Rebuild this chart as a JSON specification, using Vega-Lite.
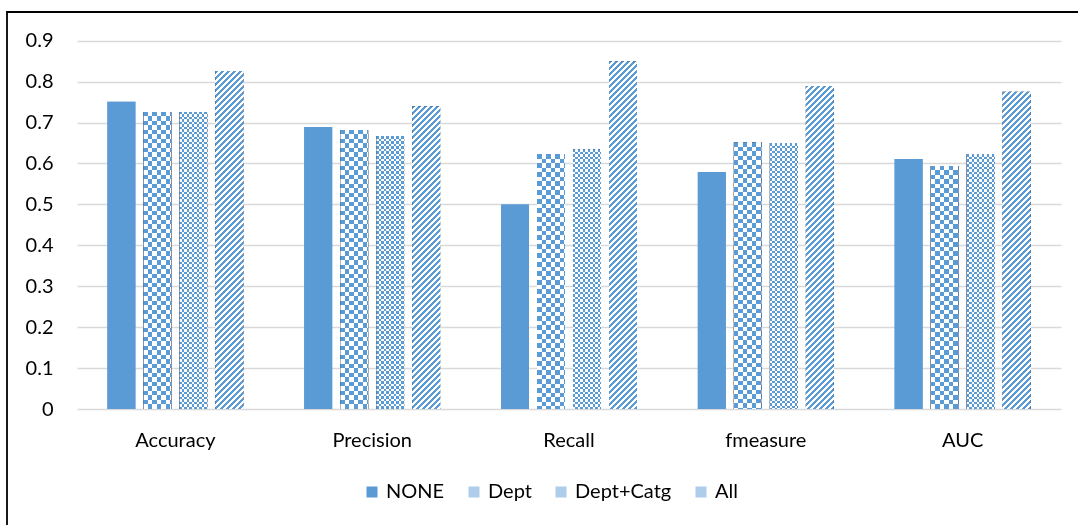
{
"$schema":"https://vega.github.io/schema/vega-lite/v6.json",
"width":1074,"height":516,
"autosize":{"type":"none"},
"padding":{"left":7,"top":12,"right":-3,"bottom":-3},
"background":"white",
"config":{"view":{"stroke":"#000","strokeWidth":1.8},"font":"Lato"},
"params":[{"name":"pat","value":[
{"offset":0,"color":"#000"},{"offset":0.005,"color":"#000"},{"offset":0.005,"color":"#fff"},{"offset":0.01,"color":"#fff"},
{"offset":0.01,"color":"#000"},{"offset":0.015,"color":"#000"},{"offset":0.015,"color":"#fff"},{"offset":0.02,"color":"#fff"},
{"offset":0.02,"color":"#000"},{"offset":0.025,"color":"#000"},{"offset":0.025,"color":"#fff"},{"offset":0.03,"color":"#fff"},
{"offset":0.03,"color":"#000"},{"offset":0.035,"color":"#000"},{"offset":0.035,"color":"#fff"},{"offset":0.04,"color":"#fff"},
{"offset":0.04,"color":"#000"},{"offset":0.045,"color":"#000"},{"offset":0.045,"color":"#fff"},{"offset":0.05,"color":"#fff"},
{"offset":0.05,"color":"#000"},{"offset":0.055,"color":"#000"},{"offset":0.055,"color":"#fff"},{"offset":0.06,"color":"#fff"},
{"offset":0.06,"color":"#000"},{"offset":0.065,"color":"#000"},{"offset":0.065,"color":"#fff"},{"offset":0.07,"color":"#fff"},
{"offset":0.07,"color":"#000"},{"offset":0.075,"color":"#000"},{"offset":0.075,"color":"#fff"},{"offset":0.08,"color":"#fff"},
{"offset":0.08,"color":"#000"},{"offset":0.085,"color":"#000"},{"offset":0.085,"color":"#fff"},{"offset":0.09,"color":"#fff"},
{"offset":0.09,"color":"#000"},{"offset":0.095,"color":"#000"},{"offset":0.095,"color":"#fff"},{"offset":0.1,"color":"#fff"},
{"offset":0.1,"color":"#000"},{"offset":0.105,"color":"#000"},{"offset":0.105,"color":"#fff"},{"offset":0.11,"color":"#fff"},
{"offset":0.11,"color":"#000"},{"offset":0.115,"color":"#000"},{"offset":0.115,"color":"#fff"},{"offset":0.12,"color":"#fff"},
{"offset":0.12,"color":"#000"},{"offset":0.125,"color":"#000"},{"offset":0.125,"color":"#fff"},{"offset":0.13,"color":"#fff"},
{"offset":0.13,"color":"#000"},{"offset":0.135,"color":"#000"},{"offset":0.135,"color":"#fff"},{"offset":0.14,"color":"#fff"},
{"offset":0.14,"color":"#000"},{"offset":0.145,"color":"#000"},{"offset":0.145,"color":"#fff"},{"offset":0.15,"color":"#fff"},
{"offset":0.15,"color":"#000"},{"offset":0.155,"color":"#000"},{"offset":0.155,"color":"#fff"},{"offset":0.16,"color":"#fff"},
{"offset":0.16,"color":"#000"},{"offset":0.165,"color":"#000"},{"offset":0.165,"color":"#fff"},{"offset":0.17,"color":"#fff"},
{"offset":0.17,"color":"#000"},{"offset":0.175,"color":"#000"},{"offset":0.175,"color":"#fff"},{"offset":0.18,"color":"#fff"},
{"offset":0.18,"color":"#000"},{"offset":0.185,"color":"#000"},{"offset":0.185,"color":"#fff"},{"offset":0.19,"color":"#fff"},
{"offset":0.19,"color":"#000"},{"offset":0.195,"color":"#000"},{"offset":0.195,"color":"#fff"},{"offset":0.2,"color":"#fff"},
{"offset":0.2,"color":"#000"},{"offset":0.205,"color":"#000"},{"offset":0.205,"color":"#fff"},{"offset":0.21,"color":"#fff"},
{"offset":0.21,"color":"#000"},{"offset":0.215,"color":"#000"},{"offset":0.215,"color":"#fff"},{"offset":0.22,"color":"#fff"},
{"offset":0.22,"color":"#000"},{"offset":0.225,"color":"#000"},{"offset":0.225,"color":"#fff"},{"offset":0.23,"color":"#fff"},
{"offset":0.23,"color":"#000"},{"offset":0.235,"color":"#000"},{"offset":0.235,"color":"#fff"},{"offset":0.24,"color":"#fff"},
{"offset":0.24,"color":"#000"},{"offset":0.245,"color":"#000"},{"offset":0.245,"color":"#fff"},{"offset":0.25,"color":"#fff"},
{"offset":0.25,"color":"#000"},{"offset":0.255,"color":"#000"},{"offset":0.255,"color":"#fff"},{"offset":0.26,"color":"#fff"},
{"offset":0.26,"color":"#000"},{"offset":0.265,"color":"#000"},{"offset":0.265,"color":"#fff"},{"offset":0.27,"color":"#fff"},
{"offset":0.27,"color":"#000"},{"offset":0.275,"color":"#000"},{"offset":0.275,"color":"#fff"},{"offset":0.28,"color":"#fff"},
{"offset":0.28,"color":"#000"},{"offset":0.285,"color":"#000"},{"offset":0.285,"color":"#fff"},{"offset":0.29,"color":"#fff"},
{"offset":0.29,"color":"#000"},{"offset":0.295,"color":"#000"},{"offset":0.295,"color":"#fff"},{"offset":0.3,"color":"#fff"},
{"offset":0.3,"color":"#000"},{"offset":0.305,"color":"#000"},{"offset":0.305,"color":"#fff"},{"offset":0.31,"color":"#fff"},
{"offset":0.31,"color":"#000"},{"offset":0.315,"color":"#000"},{"offset":0.315,"color":"#fff"},{"offset":0.32,"color":"#fff"},
{"offset":0.32,"color":"#000"},{"offset":0.325,"color":"#000"},{"offset":0.325,"color":"#fff"},{"offset":0.33,"color":"#fff"},
{"offset":0.33,"color":"#000"},{"offset":0.335,"color":"#000"},{"offset":0.335,"color":"#fff"},{"offset":0.34,"color":"#fff"},
{"offset":0.34,"color":"#000"},{"offset":0.345,"color":"#000"},{"offset":0.345,"color":"#fff"},{"offset":0.35,"color":"#fff"},
{"offset":0.35,"color":"#000"},{"offset":0.355,"color":"#000"},{"offset":0.355,"color":"#fff"},{"offset":0.36,"color":"#fff"},
{"offset":0.36,"color":"#000"},{"offset":0.365,"color":"#000"},{"offset":0.365,"color":"#fff"},{"offset":0.37,"color":"#fff"},
{"offset":0.37,"color":"#000"},{"offset":0.375,"color":"#000"},{"offset":0.375,"color":"#fff"},{"offset":0.38,"color":"#fff"},
{"offset":0.38,"color":"#000"},{"offset":0.385,"color":"#000"},{"offset":0.385,"color":"#fff"},{"offset":0.39,"color":"#fff"},
{"offset":0.39,"color":"#000"},{"offset":0.395,"color":"#000"},{"offset":0.395,"color":"#fff"},{"offset":0.4,"color":"#fff"},
{"offset":0.4,"color":"#000"},{"offset":0.405,"color":"#000"},{"offset":0.405,"color":"#fff"},{"offset":0.41,"color":"#fff"},
{"offset":0.41,"color":"#000"},{"offset":0.415,"color":"#000"},{"offset":0.415,"color":"#fff"},{"offset":0.42,"color":"#fff"},
{"offset":0.42,"color":"#000"},{"offset":0.425,"color":"#000"},{"offset":0.425,"color":"#fff"},{"offset":0.43,"color":"#fff"},
{"offset":0.43,"color":"#000"},{"offset":0.435,"color":"#000"},{"offset":0.435,"color":"#fff"},{"offset":0.44,"color":"#fff"},
{"offset":0.44,"color":"#000"},{"offset":0.445,"color":"#000"},{"offset":0.445,"color":"#fff"},{"offset":0.45,"color":"#fff"},
{"offset":0.45,"color":"#000"},{"offset":0.455,"color":"#000"},{"offset":0.455,"color":"#fff"},{"offset":0.46,"color":"#fff"},
{"offset":0.46,"color":"#000"},{"offset":0.465,"color":"#000"},{"offset":0.465,"color":"#fff"},{"offset":0.47,"color":"#fff"},
{"offset":0.47,"color":"#000"},{"offset":0.475,"color":"#000"},{"offset":0.475,"color":"#fff"},{"offset":0.48,"color":"#fff"},
{"offset":0.48,"color":"#000"},{"offset":0.485,"color":"#000"},{"offset":0.485,"color":"#fff"},{"offset":0.49,"color":"#fff"},
{"offset":0.49,"color":"#000"},{"offset":0.495,"color":"#000"},{"offset":0.495,"color":"#fff"},{"offset":0.5,"color":"#fff"},
{"offset":0.5,"color":"#000"},{"offset":0.505,"color":"#000"},{"offset":0.505,"color":"#fff"},{"offset":0.51,"color":"#fff"},
{"offset":0.51,"color":"#000"},{"offset":0.515,"color":"#000"},{"offset":0.515,"color":"#fff"},{"offset":0.52,"color":"#fff"},
{"offset":0.52,"color":"#000"},{"offset":0.525,"color":"#000"},{"offset":0.525,"color":"#fff"},{"offset":0.53,"color":"#fff"},
{"offset":0.53,"color":"#000"},{"offset":0.535,"color":"#000"},{"offset":0.535,"color":"#fff"},{"offset":0.54,"color":"#fff"},
{"offset":0.54,"color":"#000"},{"offset":0.545,"color":"#000"},{"offset":0.545,"color":"#fff"},{"offset":0.55,"color":"#fff"},
{"offset":0.55,"color":"#000"},{"offset":0.555,"color":"#000"},{"offset":0.555,"color":"#fff"},{"offset":0.56,"color":"#fff"},
{"offset":0.56,"color":"#000"},{"offset":0.565,"color":"#000"},{"offset":0.565,"color":"#fff"},{"offset":0.57,"color":"#fff"},
{"offset":0.57,"color":"#000"},{"offset":0.575,"color":"#000"},{"offset":0.575,"color":"#fff"},{"offset":0.58,"color":"#fff"},
{"offset":0.58,"color":"#000"},{"offset":0.585,"color":"#000"},{"offset":0.585,"color":"#fff"},{"offset":0.59,"color":"#fff"},
{"offset":0.59,"color":"#000"},{"offset":0.595,"color":"#000"},{"offset":0.595,"color":"#fff"},{"offset":0.6,"color":"#fff"},
{"offset":0.6,"color":"#000"},{"offset":0.605,"color":"#000"},{"offset":0.605,"color":"#fff"},{"offset":0.61,"color":"#fff"},
{"offset":0.61,"color":"#000"},{"offset":0.615,"color":"#000"},{"offset":0.615,"color":"#fff"},{"offset":0.62,"color":"#fff"},
{"offset":0.62,"color":"#000"},{"offset":0.625,"color":"#000"},{"offset":0.625,"color":"#fff"},{"offset":0.63,"color":"#fff"},
{"offset":0.63,"color":"#000"},{"offset":0.635,"color":"#000"},{"offset":0.635,"color":"#fff"},{"offset":0.64,"color":"#fff"},
{"offset":0.64,"color":"#000"},{"offset":0.645,"color":"#000"},{"offset":0.645,"color":"#fff"},{"offset":0.65,"color":"#fff"},
{"offset":0.65,"color":"#000"},{"offset":0.655,"color":"#000"},{"offset":0.655,"color":"#fff"},{"offset":0.66,"color":"#fff"},
{"offset":0.66,"color":"#000"},{"offset":0.665,"color":"#000"},{"offset":0.665,"color":"#fff"},{"offset":0.67,"color":"#fff"},
{"offset":0.67,"color":"#000"},{"offset":0.675,"color":"#000"},{"offset":0.675,"color":"#fff"},{"offset":0.68,"color":"#fff"},
{"offset":0.68,"color":"#000"},{"offset":0.685,"color":"#000"},{"offset":0.685,"color":"#fff"},{"offset":0.69,"color":"#fff"},
{"offset":0.69,"color":"#000"},{"offset":0.695,"color":"#000"},{"offset":0.695,"color":"#fff"},{"offset":0.7,"color":"#fff"},
{"offset":0.7,"color":"#000"},{"offset":0.705,"color":"#000"},{"offset":0.705,"color":"#fff"},{"offset":0.71,"color":"#fff"},
{"offset":0.71,"color":"#000"},{"offset":0.715,"color":"#000"},{"offset":0.715,"color":"#fff"},{"offset":0.72,"color":"#fff"},
{"offset":0.72,"color":"#000"},{"offset":0.725,"color":"#000"},{"offset":0.725,"color":"#fff"},{"offset":0.73,"color":"#fff"},
{"offset":0.73,"color":"#000"},{"offset":0.735,"color":"#000"},{"offset":0.735,"color":"#fff"},{"offset":0.74,"color":"#fff"},
{"offset":0.74,"color":"#000"},{"offset":0.745,"color":"#000"},{"offset":0.745,"color":"#fff"},{"offset":0.75,"color":"#fff"},
{"offset":0.75,"color":"#000"},{"offset":0.755,"color":"#000"},{"offset":0.755,"color":"#fff"},{"offset":0.76,"color":"#fff"},
{"offset":0.76,"color":"#000"},{"offset":0.765,"color":"#000"},{"offset":0.765,"color":"#fff"},{"offset":0.77,"color":"#fff"},
{"offset":0.77,"color":"#000"},{"offset":0.775,"color":"#000"},{"offset":0.775,"color":"#fff"},{"offset":0.78,"color":"#fff"},
{"offset":0.78,"color":"#000"},{"offset":0.785,"color":"#000"},{"offset":0.785,"color":"#fff"},{"offset":0.79,"color":"#fff"},
{"offset":0.79,"color":"#000"},{"offset":0.795,"color":"#000"},{"offset":0.795,"color":"#fff"},{"offset":0.8,"color":"#fff"},
{"offset":0.8,"color":"#000"},{"offset":0.805,"color":"#000"},{"offset":0.805,"color":"#fff"},{"offset":0.81,"color":"#fff"},
{"offset":0.81,"color":"#000"},{"offset":0.815,"color":"#000"},{"offset":0.815,"color":"#fff"},{"offset":0.82,"color":"#fff"},
{"offset":0.82,"color":"#000"},{"offset":0.825,"color":"#000"},{"offset":0.825,"color":"#fff"},{"offset":0.83,"color":"#fff"},
{"offset":0.83,"color":"#000"},{"offset":0.835,"color":"#000"},{"offset":0.835,"color":"#fff"},{"offset":0.84,"color":"#fff"},
{"offset":0.84,"color":"#000"},{"offset":0.845,"color":"#000"},{"offset":0.845,"color":"#fff"},{"offset":0.85,"color":"#fff"},
{"offset":0.85,"color":"#000"},{"offset":0.855,"color":"#000"},{"offset":0.855,"color":"#fff"},{"offset":0.86,"color":"#fff"},
{"offset":0.86,"color":"#000"},{"offset":0.865,"color":"#000"},{"offset":0.865,"color":"#fff"},{"offset":0.87,"color":"#fff"},
{"offset":0.87,"color":"#000"},{"offset":0.875,"color":"#000"},{"offset":0.875,"color":"#fff"},{"offset":0.88,"color":"#fff"},
{"offset":0.88,"color":"#000"},{"offset":0.885,"color":"#000"},{"offset":0.885,"color":"#fff"},{"offset":0.89,"color":"#fff"},
{"offset":0.89,"color":"#000"},{"offset":0.895,"color":"#000"},{"offset":0.895,"color":"#fff"},{"offset":0.9,"color":"#fff"},
{"offset":0.9,"color":"#000"},{"offset":0.905,"color":"#000"},{"offset":0.905,"color":"#fff"},{"offset":0.91,"color":"#fff"},
{"offset":0.91,"color":"#000"},{"offset":0.915,"color":"#000"},{"offset":0.915,"color":"#fff"},{"offset":0.92,"color":"#fff"},
{"offset":0.92,"color":"#000"},{"offset":0.925,"color":"#000"},{"offset":0.925,"color":"#fff"},{"offset":0.93,"color":"#fff"},
{"offset":0.93,"color":"#000"},{"offset":0.935,"color":"#000"},{"offset":0.935,"color":"#fff"},{"offset":0.94,"color":"#fff"},
{"offset":0.94,"color":"#000"},{"offset":0.945,"color":"#000"},{"offset":0.945,"color":"#fff"},{"offset":0.95,"color":"#fff"},
{"offset":0.95,"color":"#000"},{"offset":0.955,"color":"#000"},{"offset":0.955,"color":"#fff"},{"offset":0.96,"color":"#fff"},
{"offset":0.96,"color":"#000"},{"offset":0.965,"color":"#000"},{"offset":0.965,"color":"#fff"},{"offset":0.97,"color":"#fff"},
{"offset":0.97,"color":"#000"},{"offset":0.975,"color":"#000"},{"offset":0.975,"color":"#fff"},{"offset":0.98,"color":"#fff"},
{"offset":0.98,"color":"#000"},{"offset":0.985,"color":"#000"},{"offset":0.985,"color":"#fff"},{"offset":0.99,"color":"#fff"},
{"offset":0.99,"color":"#000"},{"offset":0.995,"color":"#000"},{"offset":0.995,"color":"#fff"},{"offset":1,"color":"#fff"}
]}],
"data":{"values":[
{"metric":"Accuracy","series":"NONE","value":0.751},
{"metric":"Accuracy","series":"Dept","value":0.726},
{"metric":"Accuracy","series":"Dept+Catg","value":0.726},
{"metric":"Accuracy","series":"All","value":0.826},
{"metric":"Precision","series":"NONE","value":0.689},
{"metric":"Precision","series":"Dept","value":0.682},
{"metric":"Precision","series":"Dept+Catg","value":0.667},
{"metric":"Precision","series":"All","value":0.740},
{"metric":"Recall","series":"NONE","value":0.500},
{"metric":"Recall","series":"Dept","value":0.623},
{"metric":"Recall","series":"Dept+Catg","value":0.635},
{"metric":"Recall","series":"All","value":0.850},
{"metric":"fmeasure","series":"NONE","value":0.579},
{"metric":"fmeasure","series":"Dept","value":0.652},
{"metric":"fmeasure","series":"Dept+Catg","value":0.650},
{"metric":"fmeasure","series":"All","value":0.789},
{"metric":"AUC","series":"NONE","value":0.611},
{"metric":"AUC","series":"Dept","value":0.594},
{"metric":"AUC","series":"Dept+Catg","value":0.623},
{"metric":"AUC","series":"All","value":0.775}
]},
"encoding":{
"x":{"field":"metric","type":"nominal","sort":["Accuracy","Precision","Recall","fmeasure","AUC"],
"scale":{"domain":["Accuracy","Precision","Recall","fmeasure","AUC"],"range":[70,1054],"paddingInner":0.309,"paddingOuter":0.1545},
"axis":{"title":null,"orient":"bottom","domain":false,"ticks":false,"grid":false,"labelAngle":0,"labelFont":"Lato","labelFontSize":20,"labelColor":"#000","labelPadding":-88,"labelBaseline":"middle"}},
"xOffset":{"field":"series","type":"nominal","scale":{"domain":["NONE","Dept","Dept+Catg","All"],"paddingInner":0.2222,"paddingOuter":0}},
"y":{"field":"value","type":"quantitative","stack":null,
"scale":{"domain":[0,0.9],"range":[397,28.7],"nice":false,"zero":true},
"axis":{"title":null,"values":[0,0.1,0.2,0.3,0.4,0.5,0.6,0.7,0.8,0.9],"format":".1~f","domain":false,"ticks":false,"grid":true,"gridColor":"#D9D9D9","gridWidth":1.3,"labelFont":"Lato","labelFontSize":20,"labelColor":"#000","labelPadding":-46}}
},
"layer":[
{"mark":{"type":"bar"},
 "encoding":{"color":{"field":"series","type":"nominal","scale":{"domain":["NONE","Dept","Dept+Catg","All"],"range":["#5B9BD5","#ADCDEA","#ADCDEA","#ADCDEA"]},
 "legend":{"title":null,"orient":"none","legendX":355,"legendY":470,"direction":"horizontal","symbolType":"square","symbolSize":121,"symbolStrokeWidth":0,"labelFont":"Lato","labelFontSize":20,"labelColor":"#000","columnPadding":19,"labelOffset":4,"padding":0,"labelLimit":300}}}},
{"mark":{"type":"bar","fill":{"expr":"datum.series=='NONE' ? '#5B9BD5' : datum.series=='All' ? {gradient:'linear',x1:0,y1:0,x2:600*28/(784+pow(datum.value*409.22,2)),y2:600*datum.value*409.22/(784+pow(datum.value*409.22,2)),stops:pat} : {gradient:'linear',x1:0,y1:0,x2:(datum.series=='Dept'?900:500)/28,y2:0,stops:pat}"}},
 "encoding":{}},
{"transform":[{"filter":"datum.series=='Dept' || datum.series=='Dept+Catg'"}],
 "mark":{"type":"bar","blend":"difference","fill":{"expr":"{gradient:'linear',x1:0,y1:0,x2:0,y2:(datum.series=='Dept'?900:500)/(datum.value*409.22),stops:pat}"}},
 "encoding":{}},
{"transform":[{"filter":"datum.series!='NONE'"}],
 "mark":{"type":"bar","blend":"lighten","fill":"#5B9BD5"},
 "encoding":{}}
]
}
